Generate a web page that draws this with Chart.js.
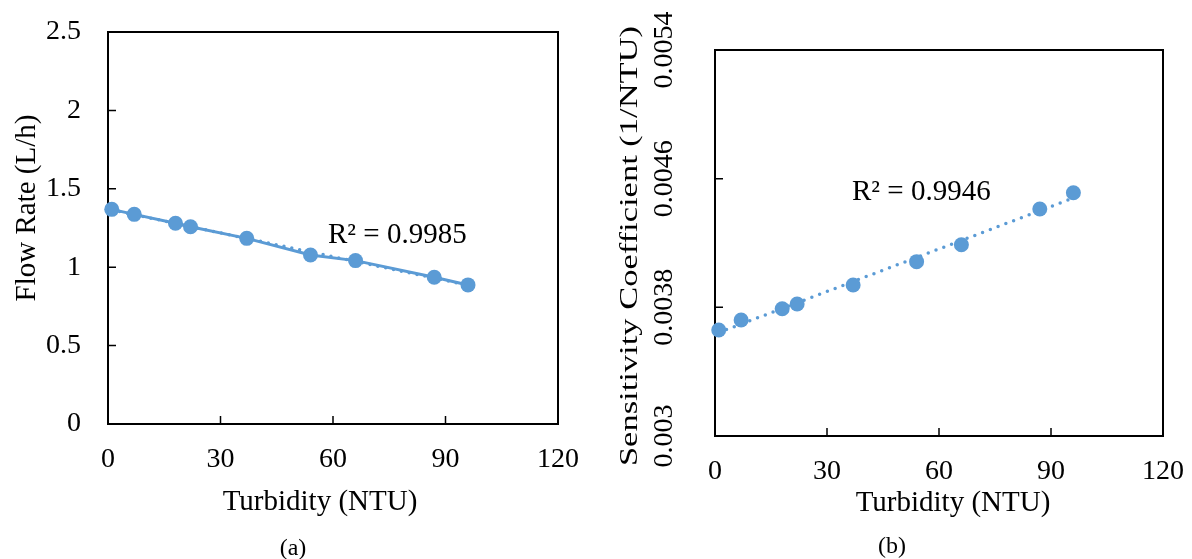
<!DOCTYPE html>
<html>
<head>
<meta charset="utf-8">
<script src="https://cdn.jsdelivr.net/npm/chart.js@4.4.0/dist/chart.umd.min.js"></script>
<style>
  body { margin: 0; background: #fff; width: 1192px; height: 559px; overflow: hidden; position: relative; }
  .box { position: absolute; top: 0; width: 596px; height: 559px; }
  #boxA { left: 0; }
  #boxB { left: 596px; }
</style>
</head>
<body>
<div class="box" id="boxA"><canvas id="chartA" width="596" height="559"></canvas></div>
<div class="box" id="boxB"><canvas id="chartB" width="596" height="559"></canvas></div>
<script>
// data
const turbidity = [1, 7, 18, 22, 37, 54, 66, 87, 96];
const flowRate = [1.369, 1.337, 1.28, 1.258, 1.184, 1.078, 1.042, 0.936, 0.887];
const sensitivity = [0.003659, 0.003721, 0.003791, 0.003821, 0.003939, 0.004084, 0.004189, 0.004411, 0.004512];
const xTicks = [0, 30, 60, 90, 120];
const flowTicks = [0, 0.5, 1, 1.5, 2, 2.5];
const sensTicks = [0.003, 0.0038, 0.0046, 0.0054];
const r2Flow = 'R² = 0.9985';
const r2Sens = 'R² = 0.9946';

const blue = '#5B9BD5';
const serif = '"Liberation Serif", "Times New Roman", serif';
Chart.defaults.font.family = serif;
Chart.defaults.color = '#000';

// least squares trend line between first and last x
function trend(xs, ys) {
  const n = xs.length;
  const mx = xs.reduce((a, b) => a + b, 0) / n;
  const my = ys.reduce((a, b) => a + b, 0) / n;
  let sxy = 0, sxx = 0;
  for (let i = 0; i < n; i++) { sxy += (xs[i] - mx) * (ys[i] - my); sxx += (xs[i] - mx) ** 2; }
  const k = sxy / sxx, b = my - k * mx;
  const x0 = Math.min(...xs), x1 = Math.max(...xs);
  return [{ x: x0, y: k * x0 + b }, { x: x1, y: k * x1 + b }];
}

const pts = (xs, ys) => xs.map((x, i) => ({ x, y: ys[i] }));
const fixTicks = arr => s => { s.ticks = arr.map(v => ({ value: v })); };
const noPad = s => { s.paddingTop = 0; s.paddingBottom = 0; s.paddingLeft = 0; s.paddingRight = 0; };

const frame = {
  id: 'frame',
  beforeDatasetsDraw(chart) {
    const { ctx, chartArea: a, scales: { x, y } } = chart;
    ctx.save();
    ctx.strokeStyle = '#000';
    ctx.lineWidth = 2;
    ctx.strokeRect(a.left, a.top, a.right - a.left, a.bottom - a.top);
    ctx.lineWidth = 1.5;
    ctx.beginPath();
    x.ticks.forEach(t => { const p = x.getPixelForValue(t.value); ctx.moveTo(p, a.bottom); ctx.lineTo(p, a.bottom - 8); });
    y.ticks.forEach(t => { const p = y.getPixelForValue(t.value); ctx.moveTo(a.left, p); ctx.lineTo(a.left + 8, p); });
    ctx.stroke();
    ctx.restore();
  }
};

function texts(items) {
  return {
    id: 'texts',
    afterDraw(chart) {
      const ctx = chart.ctx;
      items.forEach(t => {
        ctx.save();
        ctx.font = t.size + 'px ' + serif;
        ctx.fillStyle = '#000';
        ctx.textAlign = t.align || 'center';
        ctx.textBaseline = 'alphabetic';
        ctx.translate(t.x, t.y);
        if (t.rot) ctx.rotate(t.rot);
        if (t.sx) ctx.scale(t.sx, 1);
        ctx.fillText(t.text, 0, 0);
        ctx.restore();
      });
    }
  };
}

const rotTicks = {
  id: 'rotTicks',
  afterDraw(chart) {
    const { ctx, chartArea: a, scales: { y } } = chart;
    ctx.save();
    ctx.font = '28px ' + serif;
    ctx.fillStyle = '#000';
    ctx.textAlign = 'center';
    y.ticks.forEach(t => {
      ctx.save();
      ctx.translate(a.left - 43, y.getPixelForValue(t.value));
      ctx.rotate(-Math.PI / 2);
      ctx.fillText(String(Number(t.value.toFixed(4))), 0, 0);
      ctx.restore();
    });
    ctx.restore();
  }
};

function xScale(h) {
  return {
    type: 'linear', min: 0, max: 120,
    afterBuildTicks: fixTicks(xTicks),
    grid: { display: false, drawTicks: false },
    border: { display: false },
    ticks: { padding: 19, font: { size: 28 } },
    afterFit: s => { s.height = h; noPad(s); }
  };
}

new Chart(document.getElementById('chartA'), {
  type: 'scatter',
  data: {
    datasets: [
      { data: pts(turbidity, flowRate), showLine: true, borderColor: blue, backgroundColor: blue,
        borderWidth: 3, pointRadius: 7.5, pointBorderWidth: 0, clip: false, order: 0 },
      { data: trend(turbidity, flowRate), showLine: true, borderColor: blue, borderWidth: 3.5,
        borderDash: [0, 8], borderCapStyle: 'round', pointRadius: 0, clip: false, order: 1 }
    ]
  },
  options: {
    responsive: false, animation: false,
    layout: { padding: { top: 32, right: 38, bottom: 0, left: 0 } },
    plugins: { legend: { display: false }, tooltip: { enabled: false } },
    scales: {
      x: xScale(135),
      y: {
        min: 0, max: 2.5,
        afterBuildTicks: fixTicks(flowTicks),
        grid: { display: false, drawTicks: false },
        border: { display: false },
        ticks: { padding: 27, font: { size: 28 }, callback: v => String(v) },
        afterFit: s => { s.width = 108; noPad(s); }
      }
    }
  },
  plugins: [frame, texts([
    { text: 'Flow Rate (L/h)', x: 35, y: 208, rot: -Math.PI / 2, size: 29 },
    { text: 'Turbidity (NTU)', x: 320, y: 510, size: 29 },
    { text: '(a)', x: 293, y: 555, size: 24 },
    { text: r2Flow, x: 328, y: 243, size: 29, align: 'left' }
  ])]
});

new Chart(document.getElementById('chartB'), {
  type: 'scatter',
  data: {
    datasets: [
      { data: pts(turbidity, sensitivity), borderColor: blue, backgroundColor: blue,
        pointRadius: 7.5, pointBorderWidth: 0, clip: false, order: 0 },
      { data: trend(turbidity, sensitivity), showLine: true, borderColor: blue, borderWidth: 3.5,
        borderDash: [0, 8.3], borderCapStyle: 'round', pointRadius: 0, clip: false, order: 1 }
    ]
  },
  options: {
    responsive: false, animation: false,
    layout: { padding: { top: 50, right: 29, bottom: 0, left: 0 } },
    plugins: { legend: { display: false }, tooltip: { enabled: false } },
    scales: {
      x: xScale(123),
      y: {
        min: 0.003, max: 0.0054,
        afterBuildTicks: fixTicks(sensTicks),
        grid: { display: false, drawTicks: false },
        border: { display: false },
        ticks: { display: false },
        afterFit: s => { s.width = 119; noPad(s); }
      }
    }
  },
  plugins: [frame, rotTicks, texts([
    { text: 'Sensitivity Coefficient (1/NTU)', x: 41, y: 246, rot: -Math.PI / 2, size: 25, sx: 1.38 },
    { text: 'Turbidity (NTU)', x: 357, y: 511, size: 29 },
    { text: '(b)', x: 296, y: 553, size: 24 },
    { text: r2Sens, x: 256, y: 200, size: 29, align: 'left' }
  ])]
});
</script>
</body>
</html>
